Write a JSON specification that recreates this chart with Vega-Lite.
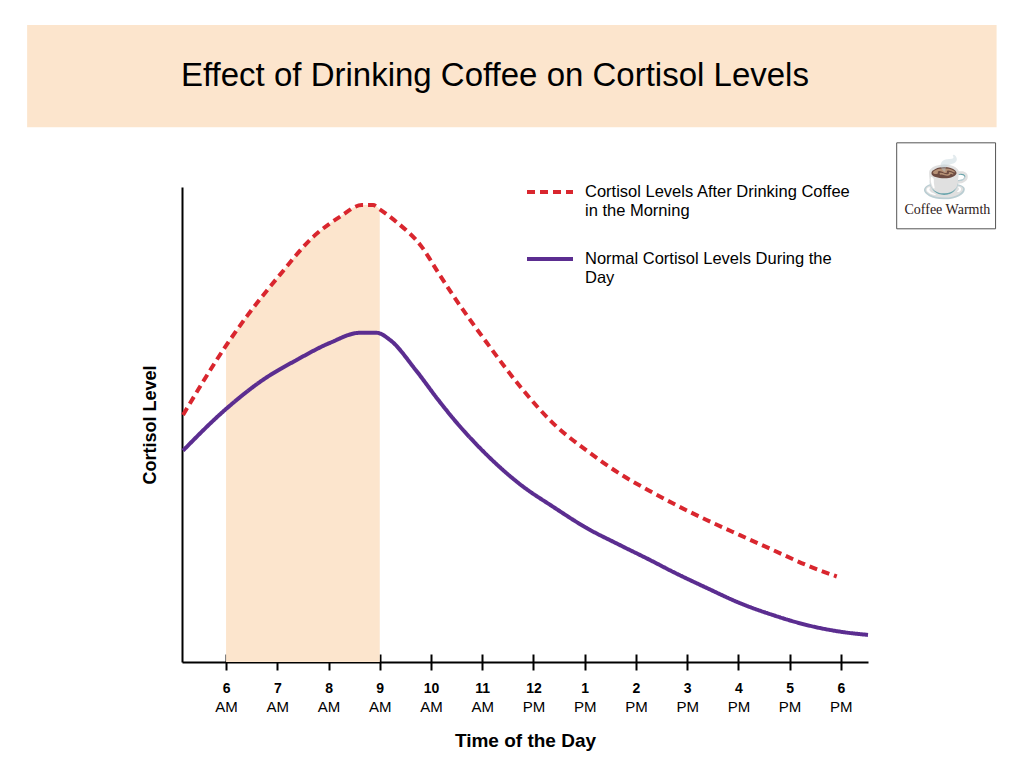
{
  "$schema": "https://vega.github.io/schema/vega-lite/v6.json",
  "width": 686,
  "height": 475,
  "autosize": {"type": "none"},
  "padding": {"left": 182, "top": 187, "right": 156, "bottom": 110},
  "background": "white",
  "config": {
    "view": {"stroke": null},
    "font": "Liberation Sans",
    "axis": {"grid": false}
  },
  "title": {
    "text": "Effect of Drinking Coffee on Cortisol Levels",
    "anchor": "start",
    "frame": "group",
    "fontSize": 33,
    "fontWeight": "normal",
    "font": "Liberation Sans",
    "color": "black",
    "baseline": "alphabetic",
    "offset": -94,
    "dx": -1
  },
  "data": {
    "values": [
      {"series": "Cortisol Levels After Drinking Coffee in the Morning", "hour": 5.16, "level": 52.0},
      {"series": "Cortisol Levels After Drinking Coffee in the Morning", "hour": 6.0, "level": 66.6},
      {"series": "Cortisol Levels After Drinking Coffee in the Morning", "hour": 6.4, "level": 72.7},
      {"series": "Cortisol Levels After Drinking Coffee in the Morning", "hour": 7.05, "level": 81.5},
      {"series": "Cortisol Levels After Drinking Coffee in the Morning", "hour": 7.7, "level": 89.5},
      {"series": "Cortisol Levels After Drinking Coffee in the Morning", "hour": 8.22, "level": 93.7},
      {"series": "Cortisol Levels After Drinking Coffee in the Morning", "hour": 8.65, "level": 96.2},
      {"series": "Cortisol Levels After Drinking Coffee in the Morning", "hour": 8.87, "level": 96.2},
      {"series": "Cortisol Levels After Drinking Coffee in the Morning", "hour": 9.0, "level": 95.3},
      {"series": "Cortisol Levels After Drinking Coffee in the Morning", "hour": 9.33, "level": 92.6},
      {"series": "Cortisol Levels After Drinking Coffee in the Morning", "hour": 9.82, "level": 87.4},
      {"series": "Cortisol Levels After Drinking Coffee in the Morning", "hour": 10.14, "level": 82.0},
      {"series": "Cortisol Levels After Drinking Coffee in the Morning", "hour": 10.43, "level": 77.2},
      {"series": "Cortisol Levels After Drinking Coffee in the Morning", "hour": 11.09, "level": 67.2},
      {"series": "Cortisol Levels After Drinking Coffee in the Morning", "hour": 11.74, "level": 58.0},
      {"series": "Cortisol Levels After Drinking Coffee in the Morning", "hour": 12.38, "level": 50.3},
      {"series": "Cortisol Levels After Drinking Coffee in the Morning", "hour": 13.04, "level": 44.5},
      {"series": "Cortisol Levels After Drinking Coffee in the Morning", "hour": 13.69, "level": 39.6},
      {"series": "Cortisol Levels After Drinking Coffee in the Morning", "hour": 14.27, "level": 36.0},
      {"series": "Cortisol Levels After Drinking Coffee in the Morning", "hour": 14.72, "level": 33.4},
      {"series": "Cortisol Levels After Drinking Coffee in the Morning", "hour": 15.38, "level": 29.9},
      {"series": "Cortisol Levels After Drinking Coffee in the Morning", "hour": 16.03, "level": 26.7},
      {"series": "Cortisol Levels After Drinking Coffee in the Morning", "hour": 16.67, "level": 23.6},
      {"series": "Cortisol Levels After Drinking Coffee in the Morning", "hour": 17.33, "level": 20.4},
      {"series": "Cortisol Levels After Drinking Coffee in the Morning", "hour": 17.92, "level": 18.0},
      {"series": "Normal Cortisol Levels During the Day", "hour": 5.16, "level": 44.5},
      {"series": "Normal Cortisol Levels During the Day", "hour": 5.94, "level": 52.7},
      {"series": "Normal Cortisol Levels During the Day", "hour": 6.72, "level": 59.4},
      {"series": "Normal Cortisol Levels During the Day", "hour": 7.38, "level": 63.6},
      {"series": "Normal Cortisol Levels During the Day", "hour": 8.03, "level": 67.2},
      {"series": "Normal Cortisol Levels During the Day", "hour": 8.61, "level": 69.3},
      {"series": "Normal Cortisol Levels During the Day", "hour": 8.94, "level": 69.3},
      {"series": "Normal Cortisol Levels During the Day", "hour": 9.2, "level": 67.8},
      {"series": "Normal Cortisol Levels During the Day", "hour": 9.7, "level": 61.5},
      {"series": "Normal Cortisol Levels During the Day", "hour": 10.14, "level": 55.2},
      {"series": "Normal Cortisol Levels During the Day", "hour": 10.43, "level": 51.3},
      {"series": "Normal Cortisol Levels During the Day", "hour": 11.09, "level": 43.6},
      {"series": "Normal Cortisol Levels During the Day", "hour": 11.74, "level": 37.4},
      {"series": "Normal Cortisol Levels During the Day", "hour": 12.38, "level": 32.7},
      {"series": "Normal Cortisol Levels During the Day", "hour": 13.04, "level": 28.2},
      {"series": "Normal Cortisol Levels During the Day", "hour": 13.69, "level": 24.6},
      {"series": "Normal Cortisol Levels During the Day", "hour": 14.27, "level": 21.5},
      {"series": "Normal Cortisol Levels During the Day", "hour": 14.72, "level": 19.0},
      {"series": "Normal Cortisol Levels During the Day", "hour": 15.38, "level": 15.6},
      {"series": "Normal Cortisol Levels During the Day", "hour": 16.03, "level": 12.4},
      {"series": "Normal Cortisol Levels During the Day", "hour": 16.67, "level": 9.9},
      {"series": "Normal Cortisol Levels During the Day", "hour": 17.33, "level": 7.8},
      {"series": "Normal Cortisol Levels During the Day", "hour": 17.98, "level": 6.4},
      {"series": "Normal Cortisol Levels During the Day", "hour": 18.53, "level": 5.7}
    ]
  },
  "resolve": {"axis": {"x": "independent"}},
  "layer": [
    {
      "data": {"values": [{}]},
      "mark": {"type": "rect", "color": "#FCE5CD"},
      "encoding": {
        "x": {"datum": 2.117, "type": "quantitative", "axis": null},
        "x2": {"datum": 21.04},
        "y": {"datum": 112.6, "type": "quantitative"},
        "y2": {"datum": 134.1}
      }
    },
    {
      "data": {"values": [{}]},
      "mark": {"type": "rect", "fill": "white", "stroke": "#555555", "strokeWidth": 1},
      "encoding": {
        "x": {"datum": 19.09, "type": "quantitative", "axis": null},
        "x2": {"datum": 21.02},
        "y": {"datum": 91.2, "type": "quantitative"},
        "y2": {"datum": 109.3}
      }
    },
    {
      "data": {"values": [{"icon": "☕"}]},
      "mark": {"type": "text", "fontSize": 40, "color": "#9A5A2E", "baseline": "middle", "align": "center"},
      "encoding": {
        "text": {"field": "icon"},
        "x": {"datum": 20.05, "type": "quantitative", "axis": null},
        "y": {"datum": 101.7, "type": "quantitative"}
      }
    },
    {
      "data": {"values": [{"brand": "Coffee Warmth"}]},
      "mark": {"type": "text", "fontSize": 14, "font": "Liberation Serif", "color": "#2E2018", "baseline": "alphabetic", "align": "center"},
      "encoding": {
        "text": {"field": "brand"},
        "x": {"datum": 20.08, "type": "quantitative", "axis": null},
        "y": {"datum": 94.3, "type": "quantitative"}
      }
    },
    {
      "transform": [
        {"filter": "datum.series == 'Cortisol Levels After Drinking Coffee in the Morning' && datum.hour >= 6 && datum.hour <= 9"}
      ],
      "mark": {"type": "area", "color": "#FCE5CD", "interpolate": "monotone"},
      "encoding": {
        "x": {
          "field": "hour",
          "type": "quantitative",
          "scale": {"domain": [5.14, 18.53], "nice": false, "zero": false},
          "axis": {
            "orient": "bottom",
            "values": [6, 7, 8, 9, 10, 11, 12, 13, 14, 15, 16, 17, 18],
            "labelExpr": "datum.value > 12 ? datum.value - 12 : datum.value",
            "labelFontWeight": "bold",
            "labelFontSize": 14,
            "labelColor": "black",
            "labelBaseline": "alphabetic",
            "labelPadding": 22,
            "labelFlush": false,
            "labelOverlap": false,
            "tickSize": 8,
            "tickColor": "black",
            "tickWidth": 2,
            "domainColor": "black",
            "domainWidth": 2,
            "title": "Time of the Day",
            "titleFontSize": 19,
            "titleFontWeight": "bold",
            "titleColor": "black",
            "titleBaseline": "alphabetic",
            "titlePadding": 51
          }
        },
        "y": {
          "field": "level",
          "type": "quantitative",
          "scale": {"domain": [0, 100], "nice": false},
          "axis": {
            "domain": true,
            "domainColor": "black",
            "domainWidth": 2,
            "ticks": false,
            "labels": false,
            "title": "Cortisol Level",
            "titleFontSize": 18,
            "titleFontWeight": "bold",
            "titleColor": "black",
            "titlePadding": 23
          }
        }
      }
    },
    {
      "mark": {"type": "line", "interpolate": "monotone", "strokeWidth": 4},
      "encoding": {
        "x": {
          "field": "hour",
          "type": "quantitative",
          "axis": {
            "orient": "bottom",
            "values": [6, 7, 8, 9, 10, 11, 12, 13, 14, 15, 16, 17, 18],
            "labelExpr": "datum.value < 12 ? 'AM' : 'PM'",
            "labelFontSize": 15,
            "labelColor": "black",
            "labelBaseline": "alphabetic",
            "labelPadding": 57.7,
            "labelFlush": false,
            "labelOverlap": false,
            "tickSize": -8,
            "tickColor": "black",
            "tickWidth": 2,
            "domain": false,
            "title": null
          }
        },
        "y": {"field": "level", "type": "quantitative"},
        "color": {
          "field": "series",
          "type": "nominal",
          "scale": {
            "domain": ["Cortisol Levels After Drinking Coffee in the Morning", "Normal Cortisol Levels During the Day"],
            "range": ["#D9262E", "#5B2D90"]
          },
          "legend": {
            "orient": "none",
            "legendX": 343,
            "legendY": -20,
            "title": null,
            "symbolType": "stroke",
            "symbolSize": 2116,
            "symbolStrokeWidth": 4,
            "labelFontSize": 16.5,
            "labelColor": "black",
            "labelLimit": 400,
            "labelOffset": 10,
            "rowPadding": 15,
            "labelExpr": "datum.label == 'Normal Cortisol Levels During the Day' ? ['Normal Cortisol Levels During the', 'Day'] : ['Cortisol Levels After Drinking Coffee', '\u2002in the Morning']"
          }
        },
        "strokeDash": {
          "field": "series",
          "type": "nominal",
          "scale": {
            "domain": ["Cortisol Levels After Drinking Coffee in the Morning", "Normal Cortisol Levels During the Day"],
            "range": [[8, 5], [1, 0]]
          },
          "legend": null
        }
      }
    }
  ]
}
